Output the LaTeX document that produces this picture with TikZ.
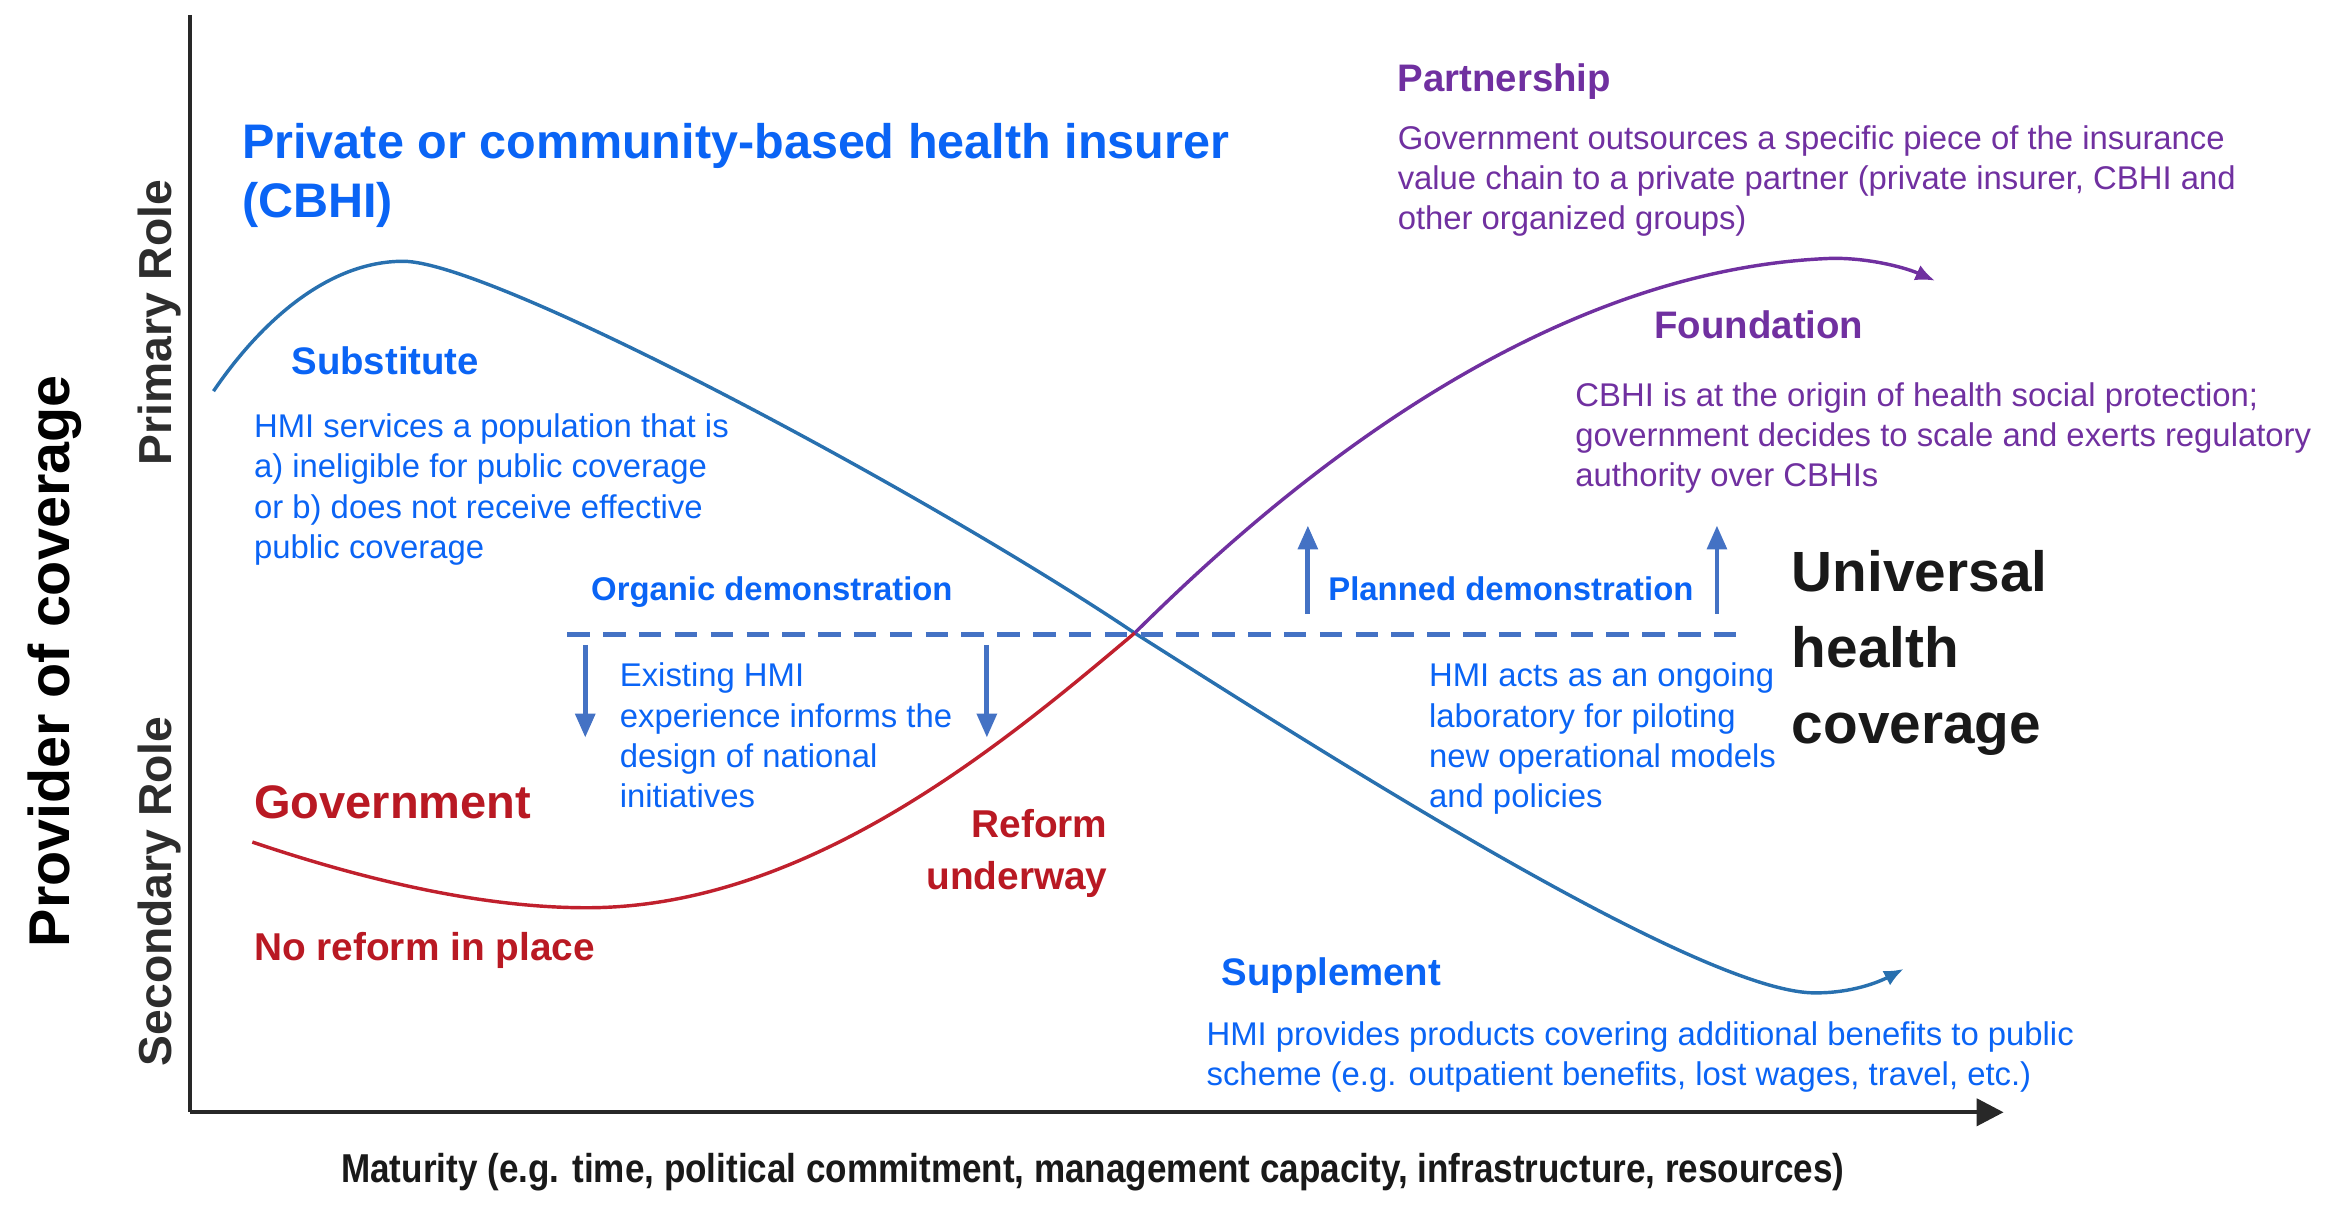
\documentclass[tikz,border=0pt]{standalone}
\usepackage{fontspec}
\setmainfont{Liberation Sans}
\newfontfamily\condfont[FakeStretch=0.87]{Liberation Sans}
\usetikzlibrary{arrows.meta}
\definecolor{txtblue}{RGB}{10,100,245}
\definecolor{curveblue}{RGB}{40,112,175}
\definecolor{curvered}{RGB}{192,32,45}
\definecolor{govred}{RGB}{185,25,35}
\definecolor{purp}{RGB}{112,48,160}
\definecolor{dashblue}{RGB}{68,114,196}
\definecolor{axisgray}{RGB}{40,40,40}
\definecolor{labgray}{RGB}{45,45,45}
\begin{document}
\begin{tikzpicture}[x=1pt,y=-1pt,
  body/.style={anchor=base west, inner sep=0pt, align=left, font=\fontsize{22}{27}\selectfont},
  head/.style={anchor=base west, inner sep=0pt, font=\fontsize{25.7}{30}\selectfont\bfseries},
  demo/.style={anchor=base, inner sep=0pt, text=txtblue, font=\fontsize{22}{27}\selectfont\bfseries},
  rolelab/.style={rotate=90, inner sep=0pt, text=labgray, font=\fontsize{31}{36}\selectfont\bfseries},
  axisline/.style={draw=axisgray, line width=2.8pt},
  curve/.style={line width=2.3pt, -{Latex[length=13pt,width=11pt]}},
  demoarrow/.style={draw=dashblue, line width=3.2pt, -{Triangle[length=16pt,width=13pt]}}
]
\useasboundingbox (0,0) rectangle (1568,809);

% axes
\coordinate (ytop) at (127,10);
\coordinate (O) at (127,745);
\coordinate (xend) at (1342,745);
\draw[axisline] (ytop) -- (O);
\draw[axisline, -{Triangle[length=18pt,width=18pt]}] (O) -- (xend);

\node[rotate=90, inner sep=0pt, text=black, font=\fontsize{38.5}{44}\selectfont\bfseries] (prov) at (37,443) {Provider of coverage};
\node[rolelab] (prim) at (107,216) {Primary Role};
\node[rolelab] (sec) at (107,597) {Secondary Role};
\node[anchor=base, inner sep=0pt, text=black!90, font=\condfont\fontsize{27}{32}\selectfont\bfseries] (xlab) at (732,792) {Maturity (e.g. time, political commitment, management capacity, infrastructure, resources)};

% curves
\coordinate (bS) at (143,262);
\coordinate (bP) at (270,175);
\coordinate (X) at (760,424);
\coordinate (bM) at (1217,665);
\coordinate (bE) at (1275,649);
\draw[curve, color=curveblue]
  (bS) .. controls (175,215) and (220,175) .. (bP)
       .. controls (330,175) and (620,330) .. (X)
       .. controls (880,500) and (1140,667) .. (bM)
       .. controls (1240,665) and (1258,658) .. (bE);
\coordinate (rS) at (169,564);
\coordinate (rM) at (393,608);
\draw[line width=2.3pt, draw=curvered]
  (rS) .. controls (240,588) and (320,608) .. (rM)
       .. controls (540,608) and (670,500) .. (X);
\coordinate (pP) at (1228,173);
\coordinate (pE) at (1296,188);
\draw[curve, color=purp]
  (X) .. controls (840,345) and (1020,180) .. (pP)
      .. controls (1255,173) and (1278,180) .. (pE);

% dashed line and arrows
\coordinate (dL) at (380,425);
\coordinate (dR) at (1163,425);
\draw[draw=dashblue, line width=3.2pt, dash pattern=on 15pt off 9pt] (dL) -- (dR);
\coordinate (a1s) at (392,432); \coordinate (a1e) at (392,494);
\coordinate (a2s) at (661,432); \coordinate (a2e) at (661,494);
\coordinate (a3s) at (876,411); \coordinate (a3e) at (876,352);
\coordinate (a4s) at (1150,411); \coordinate (a4e) at (1150,352);
\draw[demoarrow] (a1s) -- (a1e);
\draw[demoarrow] (a2s) -- (a2e);
\draw[demoarrow] (a3s) -- (a3e);
\draw[demoarrow] (a4s) -- (a4e);

% texts (base anchor of a multi-line node = baseline of its last line)
\node[anchor=base west, inner sep=0pt, align=left, text=txtblue, font=\fontsize{32.5}{40}\selectfont\bfseries] (title) at (162,146) {Private or community-based health insurer\\(CBHI)};
\node[head, text=txtblue] (subst) at (195,251) {Substitute};
\node[body, text=txtblue] (substtxt) at (170,374) {HMI services a population that is\\a) ineligible for public coverage\\or b) does not receive effective\\public coverage};
\node[demo] (organic) at (517,402) {Organic demonstration};
\node[demo] (planned) at (1012,402) {Planned demonstration};
\node[body, text=txtblue] (existing) at (415,541) {Existing HMI\\experience informs the\\design of national\\initiatives};
\node[anchor=base west, inner sep=0pt, text=govred, font=\fontsize{31.5}{36}\selectfont\bfseries] (gov) at (170,548) {Government};
\node[anchor=base west, inner sep=0pt, text=govred, font=\fontsize{26}{31}\selectfont\bfseries] (noref) at (170,643) {No reform in place};
\node[anchor=base east, inner sep=0pt, align=right, text=govred, font=\fontsize{26}{35}\selectfont\bfseries] (reform) at (742,596) {Reform\\underway};
\node[head, text=purp] (partner) at (936,61) {Partnership};
\node[body, text=purp] (partnertxt) at (936,154) {Government outsources a specific piece of the insurance\\value chain to a private partner (private insurer, CBHI and\\other organized groups)};
\node[head, text=purp] (found) at (1108,227) {Foundation};
\node[body, text=purp] (foundtxt) at (1055,326) {CBHI is at the origin of health social protection;\\government decides to scale and exerts regulatory\\authority over CBHIs};
\node[anchor=base west, inner sep=0pt, align=left, text=black!90, font=\fontsize{38}{51}\selectfont\bfseries] (uhc) at (1200,498) {Universal\\health\\coverage};
\node[body, text=txtblue] (lab) at (957,541) {HMI acts as an ongoing\\laboratory for piloting\\new operational models\\and policies};
\node[head, text=txtblue] (suppl) at (818,660) {Supplement};
\node[body, text=txtblue] (suppltxt) at (808,727) {HMI provides products covering additional benefits to public\\scheme (e.g. outpatient benefits, lost wages, travel, etc.)};
\end{tikzpicture}
\end{document}
